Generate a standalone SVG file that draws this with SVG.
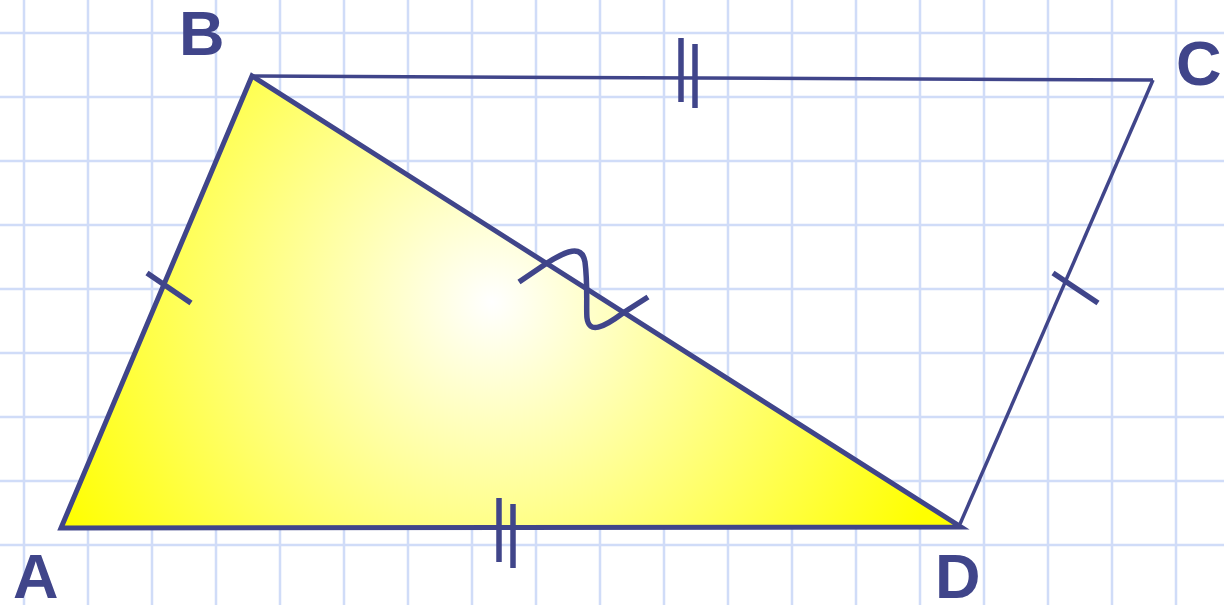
<svg xmlns="http://www.w3.org/2000/svg" width="1224" height="605" viewBox="0 0 1224 605">
<style>
.grid line{stroke:#d0dcf8;stroke-width:2.5}
.thick{stroke:#40458a;stroke-width:5;stroke-linecap:butt;stroke-linejoin:miter}
.thin{stroke:#40458a;stroke-width:3.5;fill:none}
.tick{stroke:#40458a;stroke-width:5.5;fill:none}
.lbl{font-family:"Liberation Sans",Arial,sans-serif;font-weight:bold;font-size:63px;fill:#40458a}
</style>
<defs>
<radialGradient id="g" gradientUnits="userSpaceOnUse" cx="492" cy="302" r="480">
<stop offset="0" stop-color="#ffffff"/>
<stop offset="1" stop-color="#ffff00"/>
</radialGradient>
</defs>
<rect width="1224" height="605" fill="#ffffff"/>
<g class="grid">
<line x1="24" y1="0" x2="24" y2="605"/><line x1="88" y1="0" x2="88" y2="605"/><line x1="152" y1="0" x2="152" y2="605"/><line x1="216" y1="0" x2="216" y2="605"/><line x1="280" y1="0" x2="280" y2="605"/><line x1="344" y1="0" x2="344" y2="605"/><line x1="408" y1="0" x2="408" y2="605"/><line x1="472" y1="0" x2="472" y2="605"/><line x1="536" y1="0" x2="536" y2="605"/><line x1="600" y1="0" x2="600" y2="605"/><line x1="664" y1="0" x2="664" y2="605"/><line x1="728" y1="0" x2="728" y2="605"/><line x1="792" y1="0" x2="792" y2="605"/><line x1="856" y1="0" x2="856" y2="605"/><line x1="920" y1="0" x2="920" y2="605"/><line x1="984" y1="0" x2="984" y2="605"/><line x1="1048" y1="0" x2="1048" y2="605"/><line x1="1112" y1="0" x2="1112" y2="605"/><line x1="1176" y1="0" x2="1176" y2="605"/>
<line x1="0" y1="33" x2="1224" y2="33"/><line x1="0" y1="97" x2="1224" y2="97"/><line x1="0" y1="161" x2="1224" y2="161"/><line x1="0" y1="225" x2="1224" y2="225"/><line x1="0" y1="289" x2="1224" y2="289"/><line x1="0" y1="353" x2="1224" y2="353"/><line x1="0" y1="417" x2="1224" y2="417"/><line x1="0" y1="481" x2="1224" y2="481"/><line x1="0" y1="545" x2="1224" y2="545"/>
</g>
<g id="triangle-ABD">
<polygon points="61,528 252,76 961,527" style="fill:url(#g)" class="thick"/>
</g>
<g id="connectors">
<line class="thin" x1="252" y1="76" x2="1153" y2="80"/>
<line class="thin" x1="1153" y1="80" x2="960" y2="524"/>
<line class="tick" x1="147" y1="273" x2="191" y2="303"/>
<line class="tick" x1="1053" y1="273" x2="1098" y2="303"/>
<line class="tick" x1="681" y1="38" x2="681" y2="102"/>
<line class="tick" x1="695" y1="44" x2="695" y2="108"/>
<line class="tick" x1="499" y1="498" x2="499" y2="562"/>
<line class="tick" x1="513" y1="504" x2="513" y2="568"/>
<path class="tick" d="M519,282 L547,263 C566,251 582,244 585,262 C588,285 586,310 587,318 C589,334 603,328 623,313 L648,297"/>
</g>
<g id="label-A"><text class="lbl" x="13" y="598">A</text></g>
<g id="label-B"><text class="lbl" x="179" y="55">B</text></g>
<g id="label-C"><text class="lbl" x="1176" y="85">C</text></g>
<g id="label-D"><text class="lbl" x="935" y="598">D</text></g>
</svg>
